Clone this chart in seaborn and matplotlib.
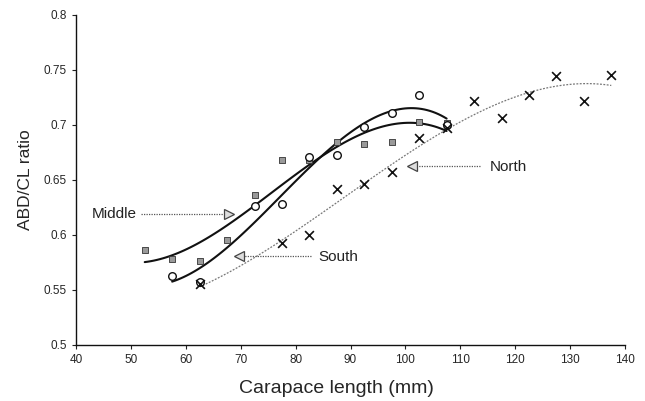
import numpy as np
import pandas as pd
import seaborn as sns
import matplotlib.pyplot as plt
from matplotlib.ticker import FuncFormatter

# Werte
mid_x = [52.5, 57.5, 62.5, 67.5, 72.5, 77.5, 82.5, 87.5, 92.5, 97.5, 102.5, 107.5]
mid_y = [0.586, 0.578, 0.576, 0.595, 0.636, 0.668, 0.668, 0.684, 0.683, 0.684, 0.703, 0.702]

south_x = [57.5, 62.5, 72.5, 77.5, 82.5, 87.5, 92.5, 97.5, 102.5, 107.5]
south_y = [0.563, 0.557, 0.626, 0.628, 0.671, 0.673, 0.698, 0.711, 0.727, 0.700]

north_x = [62.5, 77.5, 82.5, 87.5, 92.5, 97.5, 102.5, 107.5, 112.5, 117.5, 122.5, 127.5, 132.5, 137.5]
north_y = [0.555, 0.593, 0.600, 0.642, 0.646, 0.657, 0.688, 0.697, 0.722, 0.706, 0.727, 0.744, 0.722, 0.745]

x_ticks = [40, 50, 60, 70, 80, 90, 100, 110, 120, 130, 140]
y_ticks = [0.5, 0.55, 0.6, 0.65, 0.7, 0.75, 0.8]

# Beschriftungen mit Pfeil: Text, Textposition, Pfeil-Anfang, Pfeil-Spitze
labels = ["Middle", "South", "North"]
label_text_pos = [(51.0, 0.619), (84.2, 0.580), (115.3, 0.662)]
arrow_tail = [(51.8, 0.619), (82.8, 0.581), (113.6, 0.663)]
arrow_head = [(67.8, 0.619), (69.6, 0.581), (101.2, 0.663)]

mid = pd.DataFrame({"cl": mid_x, "ratio": mid_y})
south = pd.DataFrame({"cl": south_x, "ratio": south_y})
north = pd.DataFrame({"cl": north_x, "ratio": north_y})

sns.set_style("ticks")
plt.rcParams["font.family"] = ["Liberation Sans", "DejaVu Sans"]

fig = plt.figure(figsize=(6.45, 4.01), dpi=100)
ax = fig.add_axes([0.118, 0.140, 0.851, 0.823])

# Trendlinien (Polynom 3. Ordnung)
sns.regplot(data=north, x="cl", y="ratio", order=3, ci=None, scatter=False, ax=ax,
            line_kws=dict(color="#777777", lw=0.9, linestyle=(0, (1.5, 1.2))))
sns.regplot(data=mid, x="cl", y="ratio", order=3, ci=None, scatter=False, ax=ax,
            line_kws=dict(color="#111111", lw=1.5))
sns.regplot(data=south, x="cl", y="ratio", order=3, ci=None, scatter=False, ax=ax,
            line_kws=dict(color="#111111", lw=1.5))

# Messpunkte
sns.scatterplot(data=mid, x="cl", y="ratio", marker="s", s=22, color="#9a9a9a",
                edgecolor="#333333", linewidth=0.6, ax=ax, zorder=3)
sns.scatterplot(data=south, x="cl", y="ratio", marker="o", s=30, facecolor="white",
                edgecolor="#111111", linewidth=1.0, ax=ax, zorder=4)
sns.scatterplot(data=north, x="cl", y="ratio", marker="x", s=40, color="#111111",
                linewidth=1.2, ax=ax, zorder=5)

# Pfeile mit Beschriftung
for name, tpos, tail, head in zip(labels, label_text_pos, arrow_tail, arrow_head):
    ax.plot([tail[0], head[0]], [tail[1], head[1]], color="#555555", lw=0.9,
            linestyle=(0, (1, 1)))
    mk = ">" if head[0] > tail[0] else "<"
    ax.plot(head[0], head[1], marker=mk, ms=7, mfc="#dddddd", mec="#444444", mew=0.9)
    ha = "right" if head[0] > tail[0] else "left"
    ax.text(tpos[0], tpos[1], name, ha=ha, va="center", fontsize=11, color="#222222")

ax.set_xlim(40, 140)
ax.set_ylim(0.5, 0.8)
ax.set_xticks(x_ticks)
ax.set_yticks(y_ticks)
ax.yaxis.set_major_formatter(FuncFormatter(lambda v, p: "%g" % v))
ax.tick_params(axis="both", labelsize=8.5, length=3, width=0.8, color="#222222")
ax.set_xlabel("Carapace length (mm)", fontsize=14)
ax.set_ylabel("ABD/CL ratio", fontsize=12.5)
ax.xaxis.set_label_coords(0.474, -0.105)
ax.yaxis.set_label_coords(-0.078, 0.5)
for side in ["left", "bottom"]:
    ax.spines[side].set_color("#111111")
    ax.spines[side].set_linewidth(1.0)
sns.despine(ax=ax)

fig.savefig("out.png", dpi=100)
